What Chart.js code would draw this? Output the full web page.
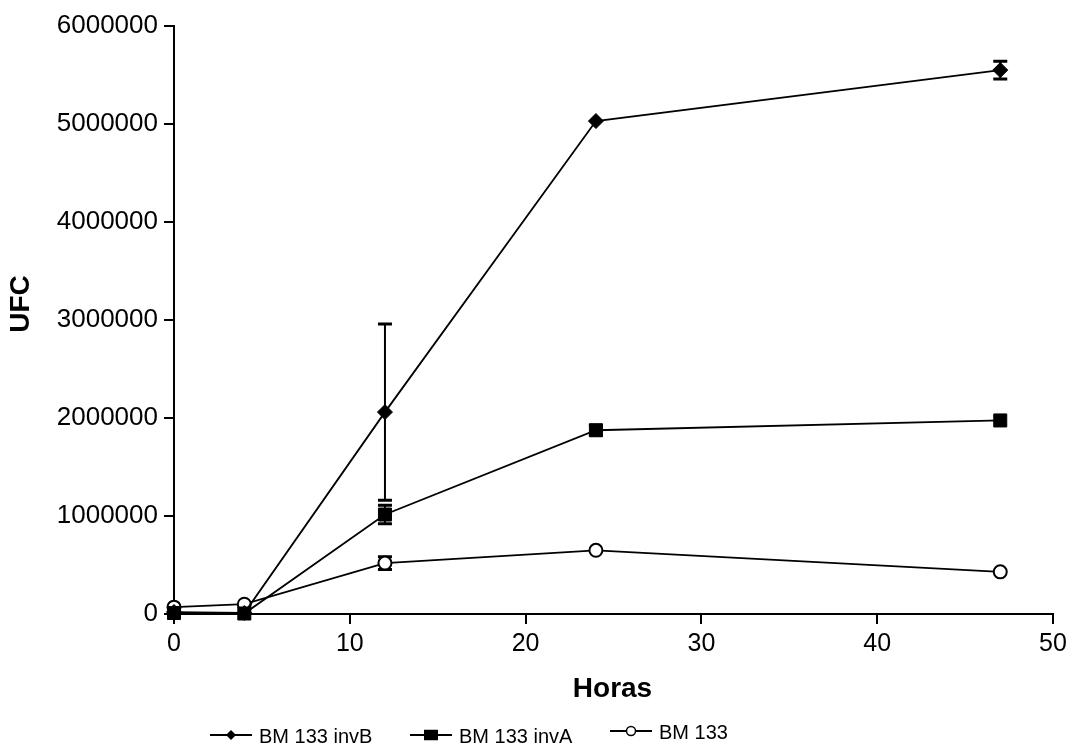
<!DOCTYPE html>
<html>
<head>
<meta charset="utf-8">
<script src="https://cdn.jsdelivr.net/npm/chart.js@4"></script>
<style>
html,body{margin:0;padding:0;background:#fff;}
#wrap{width:1072px;height:754px;position:relative;}
</style>
</head>
<body>
<div id="wrap"><canvas id="c" width="1072" height="754"></canvas></div>
<script>
const hours = [0, 4, 12, 24, 47];
const seriesNames = ['BM 133 invB', 'BM 133 invA', 'BM 133'];
const invB = [20000, 10000, 2060000, 5030000, 5550000];
const invBErr = [0, 0, 900000, 0, 90000];
const invA = [10000, 5000, 1015000, 1875000, 1975000];
const invAErr = [0, 0, 95000, 50000, 0];
const bm133 = [70000, 100000, 520000, 650000, 430000];
const bm133Err = [0, 0, 65000, 0, 0];
const xTicks = [0, 10, 20, 30, 40, 50];
const yTicks = [0, 1000000, 2000000, 3000000, 4000000, 5000000, 6000000];
const xTitle = 'Horas';
const yTitle = 'UFC';

const FONT = "'Liberation Sans', Arial, sans-serif";
const styles = [
  {pointStyle: 'rectRot', radius: 7.5, bg: '#000', legendRadius: 5},
  {pointStyle: 'rect', radius: 9.2, bg: '#000', legendRadius: 7},
  {pointStyle: 'circle', radius: 6.5, bg: '#fff', legendRadius: 4.5}
];
const values = [invB, invA, bm133];
const errs = [invBErr, invAErr, bm133Err];

const datasets = seriesNames.map((name, i) => ({
  label: name,
  data: hours.map((h, k) => ({x: h, y: values[i][k]})),
  errors: errs[i],
  borderColor: '#000',
  borderWidth: 1.8,
  pointStyle: styles[i].pointStyle,
  pointRadius: styles[i].radius,
  pointBackgroundColor: styles[i].bg,
  pointBorderColor: '#000',
  pointBorderWidth: i === 2 ? 2 : 1,
  showLine: true,
  tension: 0,
  fill: false,
  clip: false
}));

const errorBarPlugin = {
  id: 'errorBars',
  beforeDatasetsDraw(chart) {
    const ctx = chart.ctx;
    const xs = chart.scales.x, ys = chart.scales.y;
    ctx.save();
    ctx.strokeStyle = '#000';
    chart.data.datasets.forEach(ds => {
      ds.data.forEach((p, k) => {
        const e = ds.errors[k];
        if (!e) return;
        const px = xs.getPixelForValue(p.x);
        const yTop = ys.getPixelForValue(p.y + e);
        const yBot = ys.getPixelForValue(p.y - e);
        ctx.lineWidth = 2;
        ctx.beginPath();
        ctx.moveTo(px, yTop); ctx.lineTo(px, yBot);
        ctx.stroke();
        ctx.lineWidth = 3;
        ctx.beginPath();
        ctx.moveTo(px - 7, yTop); ctx.lineTo(px + 7, yTop);
        ctx.moveTo(px - 7, yBot); ctx.lineTo(px + 7, yBot);
        ctx.stroke();
      });
    });
    ctx.restore();
  }
};

const decorPlugin = {
  id: 'decor',
  afterDraw(chart) {
    const ctx = chart.ctx;
    const area = chart.chartArea;
    ctx.save();
    ctx.fillStyle = '#000';
    ctx.font = 'bold 28px ' + FONT;
    ctx.textAlign = 'center';
    ctx.textBaseline = 'middle';
    ctx.fillText(xTitle, (area.left + area.right) / 2 - 1, 689);
    ctx.save();
    ctx.translate(21, 304);
    ctx.rotate(-Math.PI / 2);
    ctx.fillText(yTitle, 0, 0);
    ctx.restore();
    const starts = [210, 410, 610];
    const ly = [735, 735, 731];
    ctx.font = '20px ' + FONT;
    ctx.textAlign = 'left';
    seriesNames.forEach((name, i) => {
      const x0 = starts[i], y0 = ly[i];
      ctx.strokeStyle = '#000';
      ctx.lineWidth = 1.8;
      ctx.beginPath();
      ctx.moveTo(x0, y0); ctx.lineTo(x0 + 42, y0);
      ctx.stroke();
      const cx = x0 + 21, r = styles[i].legendRadius;
      ctx.beginPath();
      if (i === 0) {
        ctx.moveTo(cx - r, y0); ctx.lineTo(cx, y0 - r); ctx.lineTo(cx + r, y0); ctx.lineTo(cx, y0 + r); ctx.closePath();
        ctx.fill();
      } else if (i === 1) {
        ctx.rect(cx - r, y0 - r * 0.75, 2 * r, 1.5 * r);
        ctx.fill();
      } else {
        ctx.arc(cx, y0, r, 0, Math.PI * 2);
        ctx.fillStyle = '#fff'; ctx.fill();
        ctx.lineWidth = 1.5; ctx.stroke();
        ctx.fillStyle = '#000';
      }
      ctx.textBaseline = 'middle';
      ctx.fillText(name, x0 + 49, y0 + 2);
    });
    ctx.restore();
  }
};

new Chart(document.getElementById('c'), {
  type: 'scatter',
  data: {datasets},
  options: {
    responsive: false,
    animation: false,
    layout: {padding: {left: 0, right: 19, top: 26, bottom: 0}},
    plugins: {legend: {display: false}, tooltip: {enabled: false}},
    scales: {
      x: {
        type: 'linear', min: 0, max: 50,
        afterFit(s) { s.height = 140; },
        afterBuildTicks(s) { s.ticks = xTicks.map(v => ({value: v})); },
        border: {display: true, color: '#000', width: 2},
        grid: {display: true, drawOnChartArea: false, drawTicks: true, tickLength: 10, color: '#000', lineWidth: 2},
        ticks: {color: '#000', font: {family: FONT, size: 25}, padding: 5, maxRotation: 0, callback: v => String(v)}
      },
      y: {
        type: 'linear', min: 0, max: 6000000,
        afterFit(s) { s.width = 174; },
        afterBuildTicks(s) { s.ticks = yTicks.map(v => ({value: v})); },
        border: {display: true, color: '#000', width: 2},
        grid: {display: true, drawOnChartArea: false, drawTicks: true, tickLength: 10, color: '#000', lineWidth: 2},
        ticks: {color: '#000', font: {family: FONT, size: 26}, padding: 6, callback: v => String(v)}
      }
    }
  },
  plugins: [errorBarPlugin, decorPlugin]
});
</script>
</body>
</html>
